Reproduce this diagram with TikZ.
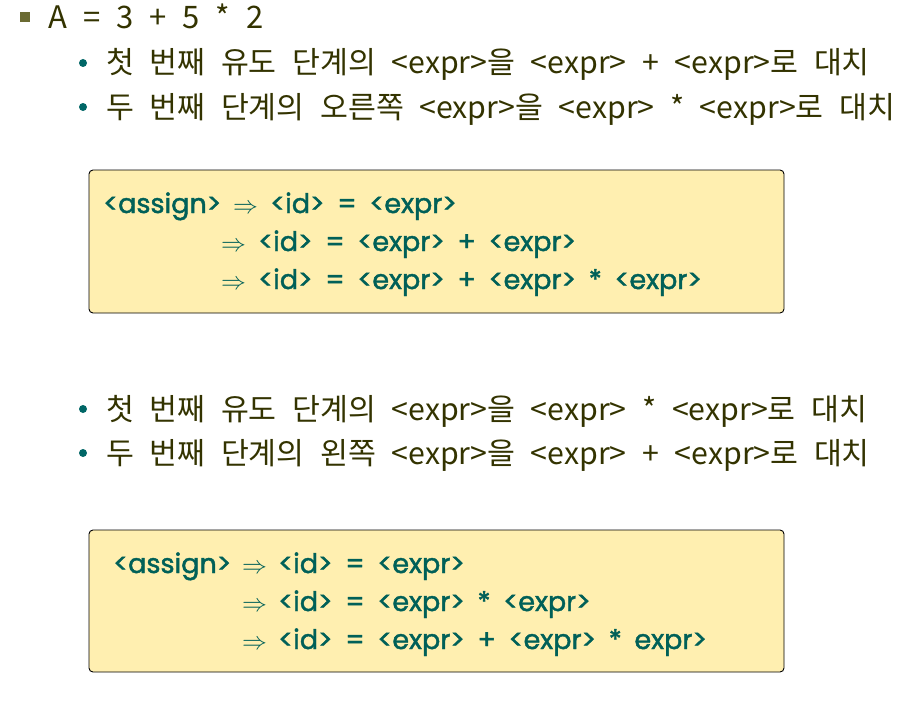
\documentclass[tikz,border=0pt]{standalone}
\usepackage{fontspec}
\setmainfont[WordSpace=2.3]{Noto Sans CJK KR}
\newfontfamily\boxfont[FakeBold=1.6,WordSpace=1.75]{Poppins}
\definecolor{txt}{HTML}{333300}
\definecolor{sqb}{HTML}{6B6B33}
\definecolor{dotb}{HTML}{006666}
\definecolor{boxfill}{HTML}{FFEFB0}
\definecolor{boxtxt}{HTML}{006058}
\tikzset{
  lvlone/.style={anchor=base west, inner sep=0pt, text=txt, font=\fontsize{31}{36}\selectfont},
  lvltwo/.style={anchor=base west, inner sep=0pt, text=txt, font=\fontsize{30.3}{34}\selectfont},
  dotbullet/.style={circle, fill=dotb, inner sep=0pt, minimum size=8pt},
  derivbox/.style={draw=black, line width=0.9pt, fill=boxfill, rounded corners=4pt},
  deriv/.style={anchor=base west, inner sep=0pt, text=boxtxt, font=\boxfont\fontsize{27}{30}\selectfont},
  arr/.style={anchor=base west, inner sep=0pt, text=boxtxt, font=\fontsize{25}{30}\selectfont},
}
\begin{document}
\begin{tikzpicture}[x=1pt,y=-1pt]
\useasboundingbox (0,0) rectangle (916,725);
% top bullet
\fill[sqb] (20,12) rectangle (30,22);
\node[lvlone] (title) at (48,29) {A = 3 + 5 * 2};
% sub-bullets 1
\node[dotbullet] (d1) at (83,63) {};
\node[lvltwo] (b1) at (106,74) {첫 번째 유도 단계의 <expr>을 <expr> + <expr>로 대치};
\node[dotbullet] (d2) at (83,107) {};
\node[lvltwo] (b2) at (106,118) {두 번째 단계의 오른쪽 <expr>을 <expr> * <expr>로 대치};
% box 1
\draw[derivbox] (89,170) rectangle (784,313);
\node[deriv] (a1) at (103,213) {<assign>};
\node[arr] (r1) at (233,213) {$\Rightarrow$};
\node[deriv] (e1) at (270,213) {<id> = <expr>};
\node[arr] (r2) at (221,251) {$\Rightarrow$};
\node[deriv] (e2) at (258,251) {<id> = <expr> + <expr>};
\node[arr] (r3) at (221,289) {$\Rightarrow$};
\node[deriv] (e3) at (258,289) {<id> = <expr> + <expr> * <expr>};
% sub-bullets 2
\node[dotbullet] (d3) at (83,409) {};
\node[lvltwo] (b3) at (106,420) {첫 번째 유도 단계의 <expr>을 <expr> * <expr>로 대치};
\node[dotbullet] (d4) at (83,453) {};
\node[lvltwo] (b4) at (106,464) {두 번째 단계의 왼쪽 <expr>을 <expr> + <expr>로 대치};
% box 2
\draw[derivbox] (89,530) rectangle (784,672);
\node[deriv] (a2) at (113,573) {<assign>};
\node[arr] (s1) at (242,573) {$\Rightarrow$};
\node[deriv] (f1) at (278,573) {<id> = <expr>};
\node[arr] (s2) at (242,611) {$\Rightarrow$};
\node[deriv] (f2) at (278,611) {<id> = <expr> * <expr>};
\node[arr] (s3) at (242,649) {$\Rightarrow$};
\node[deriv] (f3) at (278,649) {<id> = <expr> + <expr> * expr>};
\end{tikzpicture}
\end{document}
